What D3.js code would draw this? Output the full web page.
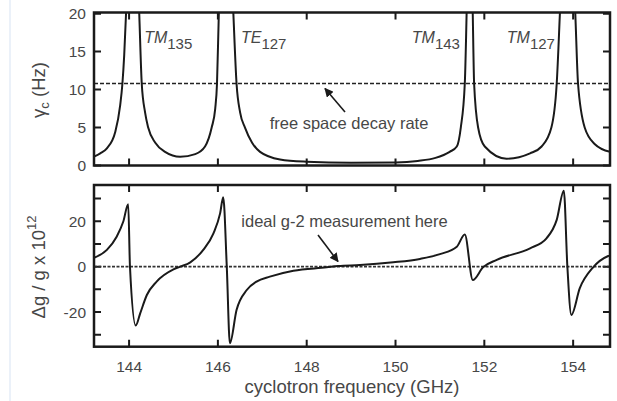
<!DOCTYPE html>
<html>
<head>
<meta charset="utf-8">
<script src="https://cdn.jsdelivr.net/npm/d3@7"></script>
<style>
  body { margin: 0; background: #fff; }
  svg text { font-family: "Liberation Sans", Arial, sans-serif; fill: #474747; }
</style>
</head>
<body>
<svg id="chart" width="617" height="401"></svg>
<script>
// Cyclotron damping rate and g-shift near cavity modes

// Top panel: cyclotron damping rate (Hz) vs frequency (GHz)
var freqGamma = [143.21, 143.35, 143.50, 143.69, 143.80, 143.85, 143.89, 143.93, 144.07,
  144.23, 144.285, 144.36, 144.43, 144.59, 144.81, 145.15, 145.49, 145.71, 145.86, 145.94,
  145.98, 146.02, 146.19, 146.35, 146.42, 146.50, 146.61, 146.77, 146.95, 147.40, 148.0,
  149.0, 150.0, 150.5, 150.9, 151.22, 151.38, 151.47, 151.56, 151.60, 151.67, 151.74, 151.77,
  151.86, 152.01, 152.50, 153.03, 153.29, 153.51, 153.63, 153.70, 153.87, 154.05, 154.11,
  154.26, 154.49, 154.83];
var gamma = [1.16, 1.6, 2.26, 4.45, 7.96, 10.8, 14.5, 19.8, 45,
  19.8, 10.8, 7, 5, 3, 1.8, 1.15, 1.5, 2.5, 5, 7.5,
  10.8, 19.8, 45, 19.8, 10.8, 7, 5, 3, 1.8, 0.8, 0.5,
  0.35, 0.4, 0.6, 1.0, 1.8, 2.5, 5, 10.8, 19.8, 45, 19.8, 10.8,
  5, 2.5, 0.9, 1.6, 2.5, 5, 10.8, 19.8, 45, 19.8, 10.8,
  5, 2.8, 1.8];

// Bottom panel: g-shift (parts in 10^12) vs frequency (GHz)
var freqShift = [143.21, 143.50, 143.72, 143.87, 143.98, 144.02, 144.15, 144.25, 144.40,
  144.62, 145.00, 145.15, 145.37, 145.67, 145.90, 146.05, 146.12, 146.20, 146.27, 146.42,
  146.65, 146.87, 147.17, 147.70, 148.45, 148.71, 149.20, 149.95, 150.55, 151.00, 151.38,
  151.56, 151.74, 151.97, 152.28, 153.03, 153.40, 153.63, 153.79, 153.87, 153.96, 154.15,
  154.45, 154.79, 154.83];
var shift = [3.9, 7.4, 13.2, 19.9, 27.5, 0, -26, -20.6, -12.5,
  -6.6, -1.2, 0, 1.8, 7.4, 14.7, 23.5, 30.6, 0, -33.8, -19.1,
  -10.3, -6.6, -4.4, -1.8, -0.3, 0.3, 0.7, 1.9, 3.4, 5.5, 8.8,
  14.2, -5.9, -0.3, 3, 8.1, 12.5, 20.6, 33.5, 0, -21.3, -9.5,
  -0.3, 4.7, 5.0];

var freeSpaceRate = 10.8;
var xTicks = [144, 146, 148, 150, 152, 154];
var gammaTicks = [0, 5, 10, 15, 20];
var shiftTicks = [-30, -20, -10, 0, 10, 20, 30];
var shiftLabels = [-20, 0, 20];

// Mode labels: name, subscript, anchor frequency, which side of the anchor
var modeNames = ['TM', 'TE', 'TM', 'TM'];
var modeSubs = ['135', '127', '143', '127'];
var modeFreq = [144.34, 146.52, 151.45, 153.59];
var modeAnchor = ['start', 'start', 'end', 'end'];

var svg = d3.select('#chart');

// faint scan edge on the left
svg.append('line')
  .attr('x1', 10).attr('x2', 10).attr('y1', 0).attr('y2', 401)
  .attr('stroke', '#e4edf7').attr('stroke-width', 1.5);

var x = d3.scaleLinear().domain([143.21, 154.83]).range([94, 610]);
var yTop = d3.scaleLinear().domain([0, 20.15]).range([165.5, 12.5]);
var yBot = d3.scaleLinear().domain([-35.3, 36]).range([346.7, 185]);

var defs = svg.append('defs');
defs.append('marker')
  .attr('id', 'arrow')
  .attr('viewBox', '0 0 10 10')
  .attr('refX', 9).attr('refY', 5)
  .attr('markerWidth', 9).attr('markerHeight', 9)
  .attr('markerUnits', 'userSpaceOnUse')
  .attr('orient', 'auto')
  .append('path')
  .attr('d', 'M0,0 L10,5 L0,10 z')
  .attr('fill', '#1a1a1a');

function panel(id, y, ticks, labels) {
  var g = svg.append('g').attr('class', id);
  var y0 = y.range()[0], y1 = y.range()[1];

  defs.append('clipPath').attr('id', 'clip-' + id)
    .append('rect')
    .attr('x', x.range()[0]).attr('y', y1)
    .attr('width', x.range()[1] - x.range()[0]).attr('height', y0 - y1);

  // ticks on all four sides, pointing inward
  var tl = 7;
  g.selectAll('.xt').data(xTicks).enter().append('path')
    .attr('d', function(d) {
      return 'M' + x(d) + ',' + y0 + 'v' + (-tl) + 'M' + x(d) + ',' + y1 + 'v' + tl;
    })
    .attr('stroke', '#1a1a1a').attr('stroke-width', 2);
  g.selectAll('.yt').data(ticks).enter().append('path')
    .attr('d', function(d) {
      return 'M' + x.range()[0] + ',' + y(d) + 'h' + tl + 'M' + x.range()[1] + ',' + y(d) + 'h' + (-tl);
    })
    .attr('stroke', '#1a1a1a').attr('stroke-width', 2);

  g.selectAll('.yl').data(labels).enter().append('text')
    .attr('x', 86).attr('y', function(d) { return y(d); })
    .attr('dy', '0.36em')
    .attr('text-anchor', 'end')
    .style('font-size', '15.5px')
    .text(function(d) { return d; });

  return g;
}

var gTop = panel('top', yTop, gammaTicks, gammaTicks);
var gBot = panel('bot', yBot, shiftTicks, shiftLabels);

// free space decay rate reference line
gTop.append('line')
  .attr('x1', x.range()[0]).attr('x2', x.range()[1])
  .attr('y1', yTop(freeSpaceRate)).attr('y2', yTop(freeSpaceRate))
  .attr('stroke', '#222').attr('stroke-width', 1.6)
  .attr('stroke-dasharray', '4,2');

// zero line
gBot.append('line')
  .attr('x1', x.range()[0]).attr('x2', x.range()[1])
  .attr('y1', yBot(0)).attr('y2', yBot(0))
  .attr('stroke', '#333').attr('stroke-width', 1.6)
  .attr('stroke-dasharray', '3,1.5');

var lineTop = d3.line()
  .x(function(d) { return x(d[0]); })
  .y(function(d) { return yTop(d[1]); })
  .curve(d3.curveMonotoneX);
var lineBot = d3.line()
  .x(function(d) { return x(d[0]); })
  .y(function(d) { return yBot(d[1]); })
  .curve(d3.curveMonotoneX);

gTop.append('path')
  .datum(d3.zip(freqGamma, gamma))
  .attr('clip-path', 'url(#clip-top)')
  .attr('d', lineTop)
  .attr('fill', 'none').attr('stroke', '#1a1a1a').attr('stroke-width', 2);

gBot.append('path')
  .datum(d3.zip(freqShift, shift))
  .attr('clip-path', 'url(#clip-bot)')
  .attr('d', lineBot)
  .attr('fill', 'none').attr('stroke', '#1a1a1a').attr('stroke-width', 2);

// frames
[yTop, yBot].forEach(function(y) {
  svg.append('rect')
    .attr('x', x.range()[0]).attr('y', y.range()[1])
    .attr('width', x.range()[1] - x.range()[0])
    .attr('height', y.range()[0] - y.range()[1])
    .attr('fill', 'none').attr('stroke', '#1a1a1a').attr('stroke-width', 2.5);
});

// x tick labels (bottom panel only)
svg.selectAll('.xl').data(xTicks).enter().append('text')
  .attr('x', function(d) { return x(d); })
  .attr('y', 372)
  .attr('text-anchor', 'middle')
  .style('font-size', '15.5px')
  .text(function(d) { return d; });

// mode labels
modeNames.forEach(function(n, i) {
  var t = gTop.append('text')
    .attr('x', x(modeFreq[i])).attr('y', 43)
    .attr('text-anchor', modeAnchor[i])
    .style('font-size', '16px');
  t.append('tspan').style('font-style', 'italic').text(n);
  t.append('tspan').attr('dy', 6).style('font-size', '15px').text(modeSubs[i]);
});

// annotations with arrows
gTop.append('text')
  .attr('x', 349).attr('y', 129)
  .attr('text-anchor', 'middle')
  .style('font-size', '16.5px')
  .text('free space decay rate');
gTop.append('line')
  .attr('x1', 345).attr('y1', 112).attr('x2', 325).attr('y2', 88.5)
  .attr('stroke', '#1a1a1a').attr('stroke-width', 1.6)
  .attr('marker-end', 'url(#arrow)');

gBot.append('text')
  .attr('x', 344.5).attr('y', 227)
  .attr('text-anchor', 'middle')
  .style('font-size', '16.5px')
  .text('ideal g-2 measurement here');
gBot.append('line')
  .attr('x1', 318).attr('y1', 235).attr('x2', 338).attr('y2', 261.5)
  .attr('stroke', '#1a1a1a').attr('stroke-width', 1.6)
  .attr('marker-end', 'url(#arrow)');

// axis titles
svg.append('text')
  .attr('x', 352).attr('y', 393)
  .attr('text-anchor', 'middle')
  .style('font-size', '18.5px')
  .text('cyclotron frequency (GHz)');

var yt1 = svg.append('text')
  .attr('transform', 'translate(45,90) rotate(-90)')
  .attr('text-anchor', 'middle')
  .style('font-size', '18.5px');
yt1.append('tspan').text('γ');
yt1.append('tspan').attr('dy', 4).style('font-size', '13px').text('c');
yt1.append('tspan').attr('dy', -4).text(' (Hz)');

var yt2 = svg.append('text')
  .attr('transform', 'translate(45,267) rotate(-90)')
  .attr('text-anchor', 'middle')
  .style('font-size', '18.5px');
yt2.append('tspan').text('Δg / g  x  10');
yt2.append('tspan').attr('dy', -9).style('font-size', '13px').text('12');
</script>
</body>
</html>
